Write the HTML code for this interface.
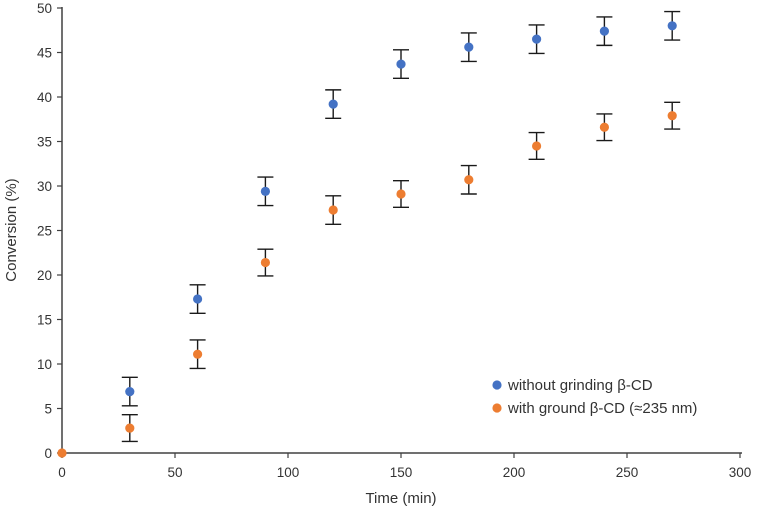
<!DOCTYPE html>
<html><head><meta charset="utf-8"><style>
html,body{margin:0;padding:0;background:#fff;}
svg{display:block;font-family:"Liberation Sans",sans-serif;}
</style></head><body>
<svg id="chart" width="758" height="514" viewBox="0 0 758 514"></svg>
<script>
const times = [30,60,90,120,150,180,210,240,270];
const blueVals = [6.9,17.3,29.4,39.2,43.7,45.6,46.5,47.4,48.0];
const blueErr = [1.6,1.6,1.6,1.6,1.6,1.6,1.6,1.6,1.6];
const orangeTimes = [0,30,60,90,120,150,180,210,240,270];
const orangeVals = [0,2.8,11.1,21.4,27.3,29.1,30.7,34.5,36.6,37.9];
const orangeErr = [0,1.5,1.6,1.5,1.6,1.5,1.6,1.5,1.5,1.5];
const xTicks = [0,50,100,150,200,250,300];
const yTicks = [0,5,10,15,20,25,30,35,40,45,50];

const NS="http://www.w3.org/2000/svg";
const svg=document.getElementById('chart');
const X0=62,X1=740,Y0=453,Y1=8;
const xs=v=>X0+(v/300)*(X1-X0);
const ys=v=>Y0-(v/50)*(Y0-Y1);
function mk(tag,attrs,parent){const e=document.createElementNS(NS,tag);for(const k in attrs)e.setAttribute(k,attrs[k]);(parent||svg).appendChild(e);return e;}

const ax=mk('g',{});


const yl=mk('line',{x1:X0,y1:Y1-1,x2:X0,y2:Y0,stroke:'#404040','stroke-width':1.5},ax);


const xl=mk('line',{x1:X0,y1:Y0,x2:X1+2,y2:Y0,stroke:'#404040','stroke-width':1.5},ax);


yTicks.forEach(t=>{
  const y=ys(t);
  mk('line',{x1:X0-5,y1:y,x2:X0,y2:y,stroke:'#404040','stroke-width':1.2},ax);
  const tx=mk('text',{x:X0-10,y:y+5,'text-anchor':'end','font-size':13.5,fill:'#333'},ax);
  tx.textContent=t;
  
  
});
xTicks.forEach(t=>{
  const x=xs(t);
  mk('line',{x1:x,y1:Y0,x2:x,y2:Y0+5,stroke:'#404040','stroke-width':1.2},ax);
  const tx=mk('text',{x:x,y:Y0+24,'text-anchor':'middle','font-size':13.5,fill:'#333'},ax);
  tx.textContent=t;
  
  
});
const xt=mk('text',{x:401,y:503,'text-anchor':'middle','font-size':15,fill:'#333'});
xt.textContent='Time (min)';


const yt=mk('text',{x:0,y:0,'text-anchor':'middle','font-size':15,fill:'#333',transform:'translate(16,230) rotate(-90)'});
yt.textContent='Conversion (%)';



function series(tArr,vals,errs,color,name){
  const g=mk('g',{});
  
  
  tArr.forEach((t,i)=>{
    const x=xs(t),y=ys(vals[i]);
    if(errs[i]>0){
      const lo=ys(vals[i]-errs[i]),hi=ys(vals[i]+errs[i]);
      const eb=mk('path',{d:`M${x},${hi}V${lo}M${x-8},${hi}H${x+8}M${x-8},${lo}H${x+8}`,stroke:'#1a1a1a','stroke-width':1.4,fill:'none'},g);
      
      
    }
    const c=mk('circle',{cx:x,cy:y,r:4.6,fill:color},g);
    
    
  });
}
series(times,blueVals,blueErr,'#4472c4','series-without-grinding');
series(orangeTimes,orangeVals,orangeErr,'#ed7d31','series-with-ground');

const lg=mk('g',{});


[['#4472c4','without grinding β-CD',385],['#ed7d31','with ground β-CD (≈235 nm)',408]].forEach(([c,l,y])=>{
  const e=mk('g',{},lg);
  
  
  mk('circle',{cx:497,cy:y,r:4.6,fill:c},e);
  const t=mk('text',{x:508,y:y+5,'font-size':15,fill:'#333'},e);
  t.textContent=l;
});
</script>
</body></html>
